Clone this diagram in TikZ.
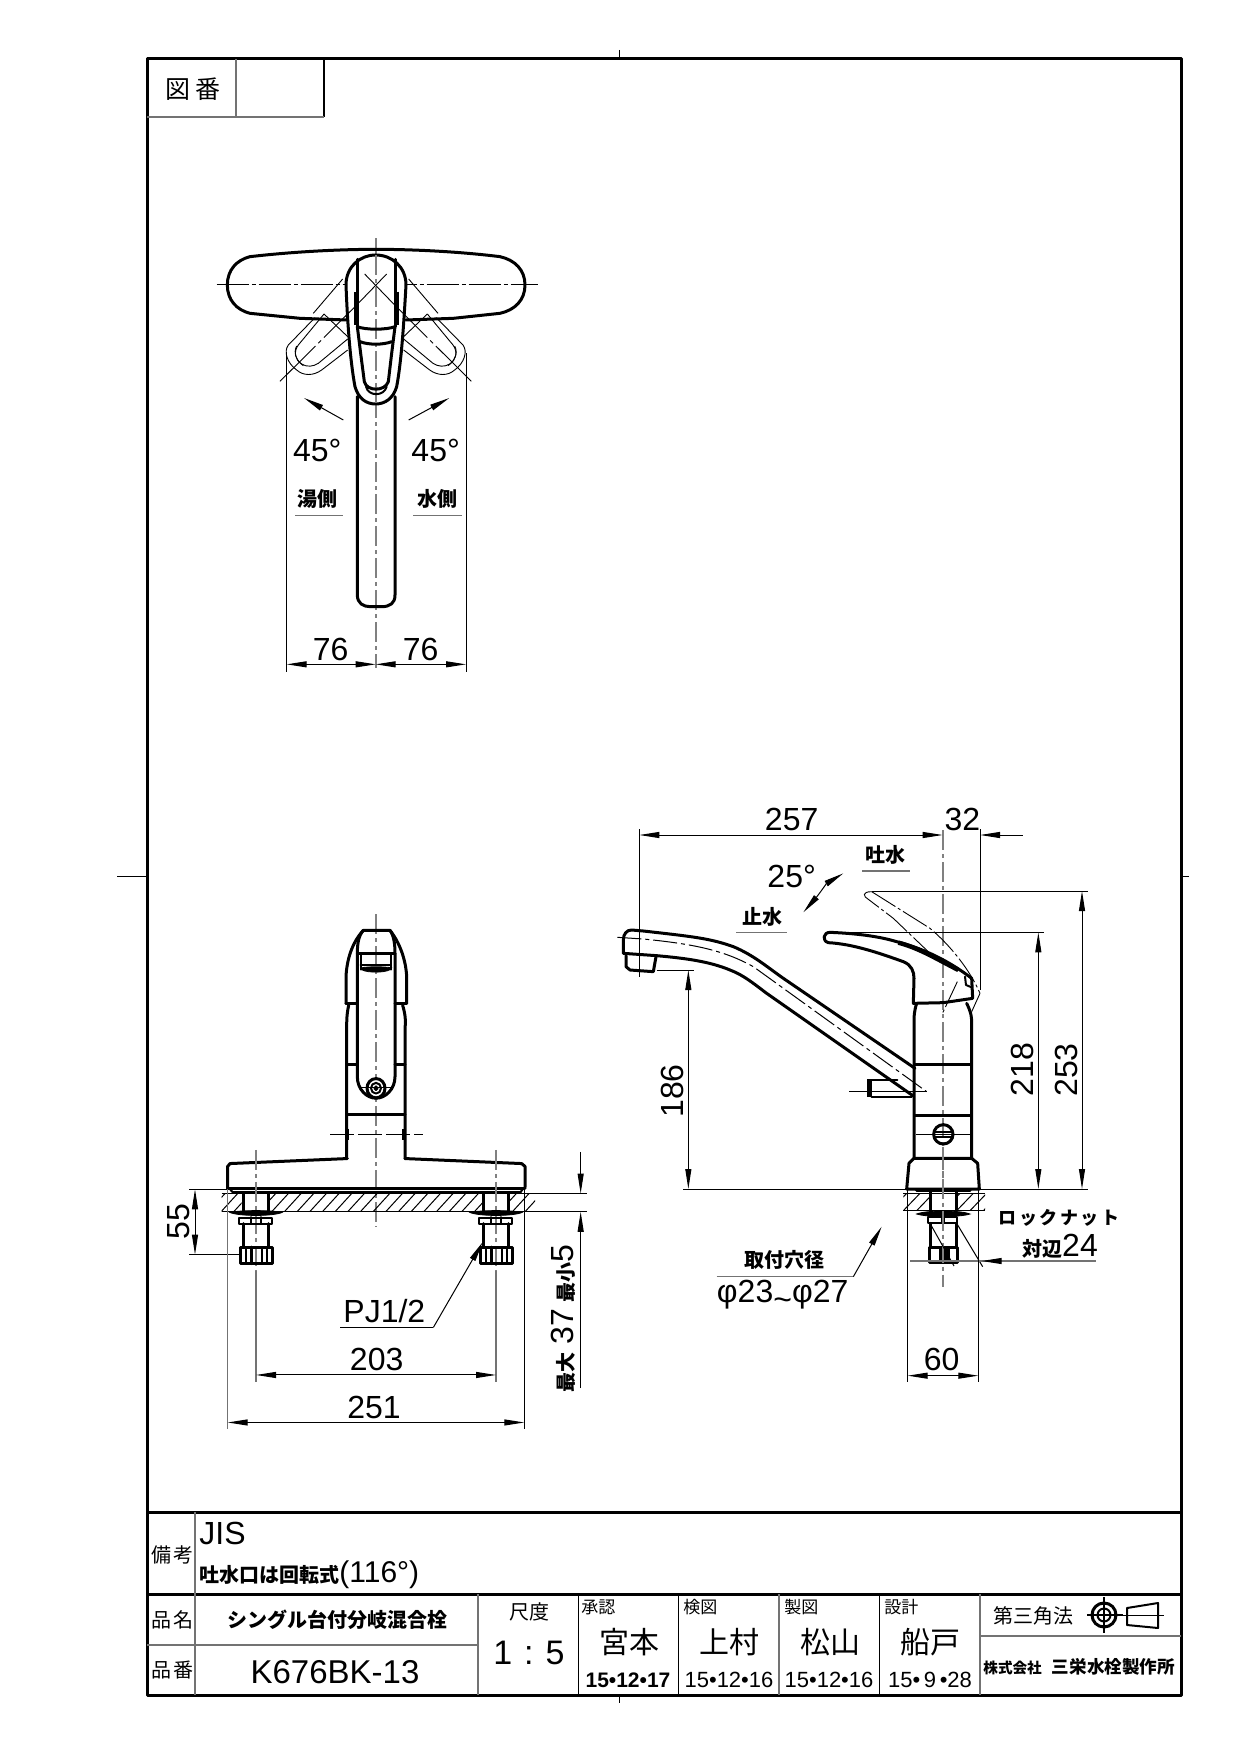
\documentclass[tikz,border=0pt]{standalone}
\usepackage{fontspec}
\setmainfont{Liberation Sans}
\newfontfamily\cjk{Noto Sans CJK JP}
\usetikzlibrary{arrows.meta}
\newcommand\dg{\fontsize{16}{16}\selectfont}
\newcommand\jb{\cjk\bfseries\fontsize{10}{10}\selectfont}
\newcommand\jt{\cjk\fontsize{10}{10}\selectfont}
\newcommand\jk{\cjk\fontsize{15}{15}\selectfont}
\tikzset{
  hv/.style={line width=1.5pt,black,line cap=round,line join=round},
  md/.style={line width=1pt,black,line cap=round,line join=round},
  tn/.style={line width=.5pt,black},
  gy/.style={line width=1pt,black!55},
  cl/.style={line width=.9pt,black!50,dash pattern=on 10pt off 2pt on 2pt off 2pt},
  gh/.style={line width=.45pt,black,dash pattern=on 14pt off 1.5pt on 1.5pt off 1.5pt},
  gs/.style={line width=.45pt,black},
  dl/.style={line width=.5pt,black,>={Triangle[length=10pt,width=3pt]}},
  dg/.style={font=\dg,inner sep=0pt},
  jbt/.style={font=\jb,inner sep=0pt},
  jtt/.style={font=\jt,inner sep=0pt},
  jkt/.style={font=\jk,inner sep=0pt},
}
\begin{document}
\begin{tikzpicture}[x=.5pt,y=-.5pt]
\useasboundingbox (0,0) rectangle (1240,1754);
% frame
\draw[line width=1.5pt,line join=round] (147,59) rectangle (1181,1695);
\draw[line width=1.5pt] (147,1512) -- (1181,1512);
\draw[line width=1.5pt] (147,1594) -- (1181,1594);
\draw[gy] (147,1645) -- (478,1645);
\draw[gy] (195,1512) -- (195,1695);
\draw[gy] (478,1594) -- (478,1695);
\draw[tn] (578,1594) -- (578,1695);
\draw[tn] (678,1594) -- (678,1695);
\draw[gy] (779,1594) -- (779,1695);
\draw[tn] (879,1594) -- (879,1695);
\draw[gy] (980,1594) -- (980,1695);
\draw[gy] (980,1636) -- (1181,1636);
\draw[gy] (236,59) -- (236,117);
\draw[tn,line width=.7pt] (324,59) -- (324,117);
\draw[gy] (147,117) -- (324,117);
\draw[tn] (619,50) -- (619,59);
\draw[tn] (619,1695) -- (619,1703);
\draw[tn] (117,876) -- (147,876);
\draw[tn] (1181,876) -- (1189,876);
% title texts
\node[font=\cjk\fontsize{12.5}{12.5}\selectfont,inner sep=0pt] (zuban) at (193,89) {図\kern2.5pt 番};
\node[jtt] (biko) at (172,1555) {備\kern1pt 考};
\node[jtt] (hinmei) at (172,1620) {品\kern1pt 名};
\node[jtt] (hinban) at (172,1670) {品\kern1pt 番};
\node[dg,anchor=west] (jis) at (199,1533) {JIS};
\node[anchor=west,inner sep=0pt] (note) at (199,1575) {\jb 吐水口は回転式{\fontsize{15}{15}\selectfont\rmfamily\mdseries (116°)}};
\node[jbt] (name) at (337,1620) {シングル台付分岐混合栓};
\node[dg,font=\fontsize{16.5}{16}\selectfont] (part) at (335,1672) {K676BK-13};
\node[jtt] (shaku) at (529,1612) {尺度};
\node[font=\fontsize{17}{17}\selectfont,inner sep=0pt] (scale) at (529,1653) {1\kern6pt :\kern6pt 5};
\node[font=\cjk\fontsize{8.5}{8.5}\selectfont,inner sep=0pt,anchor=west] (s1) at (581,1607) {承認};
\node[font=\cjk\fontsize{8.5}{8.5}\selectfont,inner sep=0pt,anchor=west] (s2) at (683,1607) {検図};
\node[font=\cjk\fontsize{8.5}{8.5}\selectfont,inner sep=0pt,anchor=west] (s3) at (784,1607) {製図};
\node[font=\cjk\fontsize{8.5}{8.5}\selectfont,inner sep=0pt,anchor=west] (s4) at (884,1607) {設計};
\node[jkt] (n1) at (629,1642) {宮本};
\node[jkt] (n2) at (729,1642) {上村};
\node[jkt] (n3) at (830,1642) {松山};
\node[jkt] (n4) at (930,1642) {船戸};
\node[font=\fontsize{10.5}{10}\selectfont\bfseries,inner sep=0pt] (d1) at (628,1680) {15•12•17};
\node[font=\fontsize{11}{10}\selectfont,inner sep=0pt] (d2) at (729,1680) {15•12•16};
\node[font=\fontsize{11}{10}\selectfont,inner sep=0pt] (d3) at (829,1680) {15•12•16};
\node[font=\fontsize{11}{10}\selectfont,inner sep=0pt] (d4) at (930,1680) {15•\,9\,•28};
\node[jtt,anchor=west] (tri) at (993,1616) {第三角法};
\node[anchor=west,inner sep=0pt] (co) at (983,1667) {\cjk\bfseries{\fontsize{7.3}{8}\selectfont 株式会社}\kern5pt{\fontsize{8.8}{9}\selectfont 三栄水栓製作所}};
\draw[gy,line width=.6pt,black] (1087,1615) -- (1123,1615) (1104,1597) -- (1104,1633);
\draw[hv] (1104,1615) circle[radius=12];
\draw[md] (1104,1615) circle[radius=6.5];
\draw[md] (1158,1603) -- (1127,1608) -- (1127,1625) -- (1158,1628) -- cycle;
\draw[tn] (1122,1615) -- (1164,1615);

% ===== top view
\begin{scope}[shift={(200,220)},xscale=1/3,yscale=1/3]
\draw[cl] (527,55) -- (527,1345);
\draw[tn,dash pattern=on 16pt off 1.5pt on 2pt off 1.5pt] (50,195) -- (1015,195);
\draw[hv] (440,300) -- (300,295) -- (150,280) .. controls (110,270) and (82,240) .. (82,195)
  .. controls (82,150) and (110,120) .. (150,110) .. controls (280,95) and (420,88) .. (527,88)
  .. controls (640,88) and (780,95) .. (900,110) .. controls (945,120) and (975,150) .. (975,195)
  .. controls (975,240) and (945,270) .. (900,280) -- (760,295) -- (618,300);
\draw[hv,fill=white] (438,195) .. controls (438,140) and (480,105) .. (527,105)
  .. controls (575,105) and (618,140) .. (618,195) .. controls (612,300) and (605,420) .. (590,500)
  .. controls (580,535) and (555,552) .. (527,552) .. controls (498,552) and (475,535) .. (465,500)
  .. controls (450,420) and (442,300) .. (438,195) -- cycle;
\draw[cl] (527,105) -- (527,552);
\draw[hv] (472,118) -- (472,320) (585,118) -- (585,320);
\draw[line width=2.5pt] (468,215) -- (468,315) (589,215) -- (589,315);
\draw[hv] (472,320) .. controls (495,330) and (560,330) .. (585,320);
\draw[hv] (480,365) .. controls (505,375) and (550,375) .. (575,365);
\draw[hv] (472,320) -- (482,400) -- (493,485) .. controls (500,515) and (555,515) .. (565,485) -- (575,400) -- (585,320);
\draw[md] (498,500) .. controls (505,530) and (552,530) .. (560,500);
% ghosts
\foreach \s/\o in {1/0,-1/1054}{
 \begin{scope}[shift={(\o,0)},xscale=\s]
  \draw[gs] (345,293) -- (265,375) .. controls (250,395) and (262,430) .. (290,450)
    .. controls (310,468) and (340,468) .. (365,450) -- (443,390);
  \draw[gs] (372,282) -- (295,375) .. controls (280,395) and (285,420) .. (305,432)
    .. controls (320,442) and (340,440) .. (355,430) -- (443,357);
  \draw[gs] (372,282) -- (443,350);
  \draw[gs] (290,378) .. controls (278,400) and (292,425) .. (310,437);
  \draw[gs,dash pattern=on 25pt off 2pt on 2pt off 2pt] (240,484) -- (470,255);
  \draw[gs] (470,255) -- (560,162);
  \draw[gs,dash pattern=on 25pt off 2pt on 2pt off 2pt] (428,177) -- (340,280);
 \end{scope}}
% spout
\draw[hv] (472,530) -- (472,1125) .. controls (472,1150) and (490,1160) .. (510,1160) -- (545,1160)
  .. controls (570,1160) and (585,1150) .. (585,1125) -- (585,530);
\draw[dl,->] (430,600) -- (312,534);
\draw[dl,->] (626,600) -- (748,534);
\node[dg] (a45l) at (352,692) {45°};
\node[dg] (a45r) at (707,692) {45°};
\node[jbt] (yu) at (352,837) {湯側};
\node[jbt] (mz) at (713,837) {水側};
\draw[gy,line width=.6pt] (285,887) -- (430,887) (640,887) -- (787,887);
\draw[tn] (260,395) -- (260,1355);
\draw[tn] (798,400) -- (798,1355);
\draw[dl,<->] (260,1333) -- (527,1333);
\draw[dl,<->] (527,1333) -- (798,1333);
\node[dg] (d76a) at (392,1287) {76};
\node[dg] (d76b) at (662,1287) {76};
\end{scope}

% ===== front view
\begin{scope}[shift={(150,900)},xscale=1/3,yscale=1/2.8]
\draw[cl] (678,40) -- (678,915);
\draw[hv] (588,290) -- (588,215) .. controls (590,170) and (605,120) .. (640,85) -- (720,85)
  .. controls (750,120) and (768,170) .. (770,215) -- (770,290);
\draw[hv] (588,290) -- (622,290) (735,290) -- (770,290);
\draw[hv] (640,85) .. controls (625,100) and (622,125) .. (622,150) -- (622,495)
  .. controls (622,530) and (650,555) .. (678,555) .. controls (706,555) and (735,530) .. (735,495) -- (735,150)
  .. controls (735,125) and (732,100) .. (720,85);
\draw[hv] (622,150) -- (735,150);
\draw[md] (632,150) -- (632,195) (722,150) -- (722,195) (632,183) -- (722,183);
\draw[fill=black] (635,190) .. controls (650,186) and (705,186) .. (725,190) .. controls (720,205) and (650,205) .. (635,195) -- cycle;
\draw[hv,fill=white] (678,527) circle[radius=27];
\draw[md] (678,527) circle[radius=15];
\draw[md] (678,527) circle[radius=5];
\draw[tn] (630,525) -- (728,525);
\draw[hv] (596,295) .. controls (590,320) and (590,340) .. (590,360) -- (590,724);
\draw[hv] (758,295) .. controls (766,320) and (768,340) .. (765,360) -- (765,724);
\draw[hv] (592,462) -- (622,462) (735,462) -- (765,462);
\draw[hv] (590,602) -- (765,602);
\draw[tn,dash pattern=on 12pt off 2pt] (540,656) -- (818,656);
\draw[line width=2pt] (592,640) -- (592,672) (763,640) -- (763,672);
\draw[hv] (592,724) -- (240,738) -- (233,746) -- (233,808);
\draw[hv] (765,724) -- (1115,738) -- (1125,746) -- (1125,805);
\draw[hv] (233,808) -- (1125,808);
\draw[hv] (250,820) -- (1110,820);
\draw[md] (240,810) -- (250,820) (1118,810) -- (1110,820);
\draw[tn] (118,810) -- (233,810);
\draw[tn] (215,822) -- (1310,822);
\draw[tn] (215,873) -- (1310,873);
\begin{scope}
\clip (215,822) rectangle (275,873) (358,822) rectangle (1000,873) (1080,822) rectangle (1155,873);
\foreach \x in {175,213,...,1180}{\draw[tn] (\x,873) -- ++(50,-51);}
\end{scope}
\foreach \bx in {318,1038}{
 \draw[cl] (\bx,700) -- (\bx,1040);
 \draw[line width=.8pt,black!55] (\bx,1040) -- (\bx,1350);
 \draw[hv] (\bx-38,822) -- (\bx-38,870) (\bx+38,822) -- (\bx+38,870);
 \draw[fill=black] (\bx-78,875) .. controls (\bx-50,868) and (\bx+50,868) .. (\bx+78,875) .. controls (\bx+50,886) and (\bx-50,886) .. (\bx-78,875) -- cycle;
 \draw[md] (\bx-50,890) rectangle (\bx+48,906);
 \draw[md] (\bx-15,888) -- (\bx-15,906) (\bx+15,888) -- (\bx+15,906);
 \draw[hv] (\bx-38,906) -- (\bx-38,970) (\bx+38,906) -- (\bx+38,970);
 \draw[hv] (\bx-48,972) rectangle (\bx+50,1018);
 \draw[md] (\bx-30,972) -- (\bx-30,1018) (\bx+34,972) -- (\bx+34,1018);
 \draw[hv] (\bx-14,972) -- (\bx-14,1018);
 \draw[md] (\bx+17,972) -- (\bx+17,1018);
}
\draw[tn] (118,993) -- (270,993);
\draw[dl,<->] (135,810) -- (135,993);
\node[dg,rotate=90] (d55) at (85,900) {55};
\draw[line width=.8pt,black!55] (233,810) -- (233,1480);
\draw[tn] (1123,805) -- (1123,1480);
\draw[dl,<->] (318,1330) -- (1038,1330);
\draw[dl,<->] (233,1463) -- (1123,1463);
\node[dg] (d203) at (680,1287) {203};
\node[dg] (d251) at (672,1420) {251};
\node[dg] (pj) at (703,1152) {PJ1/2};
\draw[tn] (570,1197) -- (850,1197);
\draw[dl,->] (850,1197) -- (998,958);
\draw[dl,->] (1292,705) -- (1292,822);
\draw[dl,->] (1292,1367) -- (1292,873);
\node[rotate=90,inner sep=0pt,font=\dg] (mx) at (1239,1172) {{\jb 最大}\kern4pt 37\kern3pt{\jb 最小}5};
\end{scope}

% ===== side view
\begin{scope}[shift={(610,790)},xscale=1/3,yscale=1/3]
\draw[cl] (998,120) -- (998,1200);
\draw[tn] (88,118) -- (88,560);
\draw[tn] (1110,118) -- (1110,600);
\draw[dl,<->] (88,135) -- (998,135);
\draw[dl,->] (1238,135) -- (1110,135);
\node[dg] (d257) at (545,88) {257};
\node[dg] (d32) at (1057,88) {32};
\node[jbt] (tosui) at (825,195) {吐水};
\draw[gy,line width=.6pt] (757,243) -- (900,243);
\node[dg] (a25) at (545,258) {25°};
\node[jbt] (shisui) at (457,382) {止水};
\draw[gy,line width=.6pt] (378,428) -- (530,428);
\draw[dl,<->] (580,367) .. controls (625,315) and (650,280) .. (700,250);
% ghost lever
\draw[gh] (785,305) -- (960,415) .. controls (1020,465) and (1080,540) .. (1110,610);
\draw[gs] (1110,610) -- (1085,665);
\draw[gh] (785,305) .. controls (755,305) and (760,320) .. (775,328) -- (850,385) -- (960,490);
\draw[tn] (785,303) -- (1433,303);
\draw[tn] (660,427) -- (1303,427);
\draw[tn] (220,1197) -- (1433,1197);
\draw[tn] (140,540) -- (253,540);
\draw[dl,<->] (1416,303) -- (1416,1197);
\draw[dl,<->] (1285,427) -- (1285,1197);
\draw[dl,<->] (235,540) -- (235,1197);
\node[dg,rotate=90] (d253) at (1368,840) {253};
\node[dg,rotate=90] (d218) at (1237,838) {218};
\node[dg,rotate=90] (d186) at (187,903) {186};
% spout
\draw[hv] (915,835) -- (520,565) .. controls (470,530) and (430,495) .. (370,470)
  .. controls (300,445) and (250,440) .. (100,423) -- (65,420) .. controls (50,420) and (40,432) .. (40,450) -- (40,490)
  -- (140,497) .. controls (230,505) and (300,515) .. (360,540) .. controls (400,555) and (430,580) .. (470,610) -- (910,918);
\draw[hv] (48,497) -- (48,530) -- (60,540) -- (130,545) -- (138,500);
\draw[tn,dash pattern=on 12pt off 2pt on 2pt off 2pt] (22,442) -- (100,447) .. controls (250,462) and (340,480) .. (430,530) -- (950,905);
\draw[line width=2.5pt] (778,868) -- (778,922);
\draw[md] (785,870) -- (862,870) (785,920) -- (905,920);
\draw[tn] (718,904) -- (952,904);
% body
\draw[hv] (920,640) .. controls (912,665) and (912,680) .. (912,700) -- (912,1105);
\draw[hv] (1070,640) .. controls (1085,670) and (1085,685) .. (1085,700) -- (1085,1105);
\draw[hv] (914,823) -- (1084,823) (914,975) -- (1084,975);
\draw[hv] (912,1105) -- (897,1120) -- (890,1197) -- (1108,1197) -- (1103,1120) -- (1085,1105) -- cycle;
\draw[hv] (1000,1033) circle[radius=29];
\draw[md] (972,1027) -- (1028,1027) (972,1040) -- (1028,1040);
\draw[tn] (918,1033) -- (1082,1033);
% lever
\draw[hv] (660,427) .. controls (640,427) and (635,452) .. (655,458) .. controls (730,462) and (810,490) .. (880,515)
  .. controls (905,525) and (912,545) .. (912,565) -- (910,640) -- (1000,638) -- (1088,625) -- (1085,565)
  .. controls (1040,530) and (960,480) .. (860,455) .. controls (800,437) and (730,430) .. (660,427) -- cycle;
\draw[line width=2.2pt] (865,458) .. controls (930,475) and (985,510) .. (1045,540);
\draw[md] (1065,560) -- (1068,585) -- (1085,592);
\draw[gh] (1042,575) -- (995,675);
\end{scope}

% ===== side lower
\begin{scope}[shift={(700,1120)},xscale=1/3,yscale=1/3]
\draw[tn] (610,220) -- (855,220) (610,272) -- (855,272);
\begin{scope}
\clip (610,220) rectangle (690,272) (770,220) rectangle (855,272);
\foreach \x in {570,610,...,870}{\draw[tn] (\x,272) -- ++(50,-52);}
\end{scope}
\draw[hv] (650,212) -- (810,212);
\draw[hv] (690,215) -- (690,270) (768,215) -- (768,270);
\draw[fill=black] (650,282) .. controls (680,270) and (780,270) .. (810,282) .. controls (780,292) and (680,292) .. (650,282) -- cycle;
\draw[md] (685,292) rectangle (727,308) (732,292) rectangle (772,308);
\draw[hv] (690,310) -- (690,380) (770,310) -- (770,380);
\draw[hv] (687,382) rectangle (772,428);
\fill (718,382) rectangle (750,428);
\draw[cl] (729,80) -- (729,500);
\draw[tn] (770,310) -- (848,440);
\draw[tn] (690,310) -- (762,438);
\draw[line width=.8pt,black!55] (630,423) -- (1187,423);
\draw[dl,->] (900,423) -- (845,423);
\draw[tn] (623,205) -- (623,785);
\draw[tn] (835,205) -- (835,785);
\draw[dl,<->] (623,767) -- (835,767);
\node[dg] (d60) at (725,718) {60};
\node[inner sep=0pt,font=\cjk\bfseries\fontsize{9}{9}\selectfont] (ln) at (1077,295) {ロ\kern1.3pt ッ\kern1.3pt ク\kern1.3pt ナ\kern1.3pt ッ\kern1.3pt ト};
\node[inner sep=0pt] (tai) at (1080,378) {\jb 対辺{\dg\rmfamily\mdseries 24}};
\node[jbt] (toritsuke) at (253,420) {取付穴径};
\draw[gy,line width=.6pt] (50,470) -- (460,470);
\draw[dl,->] (460,470) -- (545,320);
\node[dg] (phi) at (248,525) {φ23\raisebox{-4pt}{\textasciitilde}φ27};
\end{scope}
\end{tikzpicture}
\end{document}
